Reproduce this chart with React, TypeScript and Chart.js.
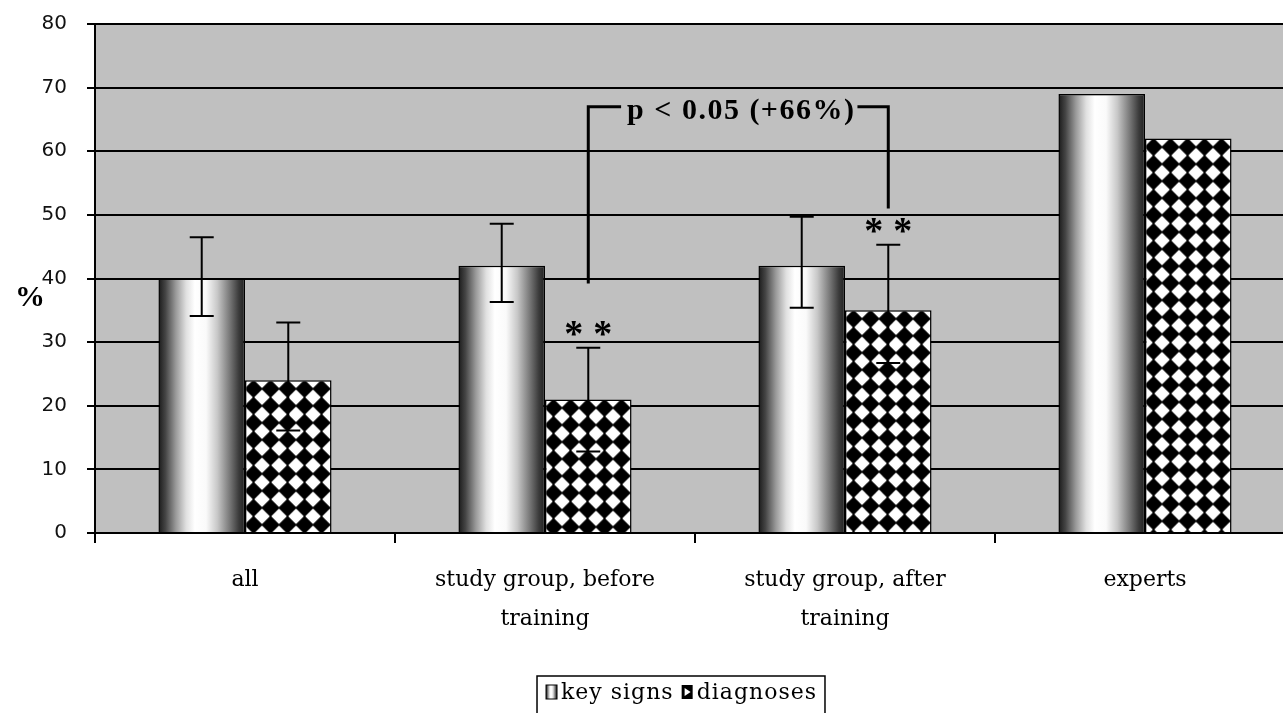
import { useEffect, useRef } from "react";
import Chart from "chart.js/auto";

const categories: (string | string[])[] = [
  "all",
  ["study group, before", "training"],
  ["study group, after", "training"],
  "experts",
];
const seriesNames = ["key signs", "diagnoses"];
const keySigns = [40, 42, 42, 69];
const diagnoses = [24, 21, 35, 62];
const keyLow = [34.1, 36.3, 35.4, null];
const keyHigh = [46.5, 48.6, 49.7, null];
const diagLow = [16.1, 12.8, 26.7, null];
const diagHigh = [33.1, 29.1, 45.3, null];
const diagStars = ["", "**", "**", ""];
const yTicks = [0, 10, 20, 30, 40, 50, 60, 70, 80];
// bracket between the two study-group diagnoses bars
const bracketBars = [1, 2];
const bracketEnds = [39.2, 51];
const bracketTop = 67;
const bracketText = "p < 0.05 (+66%)";

const CAT_PCT = 0.577;
const TILE = 17;

// black tile with white diamonds centred on the tile corners
function diamondTile() {
  const s = TILE;
  const c = document.createElement("canvas");
  c.width = s;
  c.height = s;
  const t = c.getContext("2d")!;
  t.fillStyle = "#000";
  t.fillRect(0, 0, s, s);
  t.fillStyle = "#fff";
  t.strokeStyle = "#fff";
  t.lineJoin = "round";
  t.lineWidth = 1.5;
  const r = s * 0.4;
  for (const [cx, cy] of [
    [0, 0],
    [s, 0],
    [0, s],
    [s, s],
  ]) {
    t.beginPath();
    t.moveTo(cx, cy - r);
    t.lineTo(cx + r, cy);
    t.lineTo(cx, cy + r);
    t.lineTo(cx - r, cy);
    t.closePath();
    t.fill();
    t.stroke();
  }
  return c;
}

function cylinder(ctx: CanvasRenderingContext2D, left: number, right: number) {
  const g = ctx.createLinearGradient(left, 0, right, 0);
  g.addColorStop(0, "#1a1a1a");
  g.addColorStop(0.08, "#444444");
  g.addColorStop(0.2, "#999999");
  g.addColorStop(0.32, "#e0e0e0");
  g.addColorStop(0.42, "#ffffff");
  g.addColorStop(0.55, "#fafafa");
  g.addColorStop(0.68, "#c8c8c8");
  g.addColorStop(0.82, "#7a7a7a");
  g.addColorStop(0.93, "#3a3a3a");
  g.addColorStop(1, "#202020");
  return g;
}

const decor = {
  id: "decor",
  beforeDraw(chart: any) {
    const { ctx, chartArea: a } = chart;
    ctx.save();
    ctx.fillStyle = "#c0c0c0";
    ctx.fillRect(a.left, a.top, a.right - a.left, a.bottom - a.top);
    ctx.restore();
  },
  afterDatasetsDraw(chart: any) {
    const { ctx } = chart;
    const y = chart.scales.y;
    const metas = [chart.getDatasetMeta(0), chart.getDatasetMeta(1)];
    const lows = [keyLow, diagLow];
    const highs = [keyHigh, diagHigh];
    ctx.save();
    ctx.strokeStyle = "#000";
    ctx.lineWidth = 2;
    metas.forEach((meta, d) => {
      meta.data.forEach((bar: any, i: number) => {
        const lo = lows[d][i];
        const hi = highs[d][i];
        if (lo == null || hi == null) return;
        const yl = y.getPixelForValue(lo);
        const yh = y.getPixelForValue(hi);
        ctx.beginPath();
        ctx.moveTo(bar.x, yl);
        ctx.lineTo(bar.x, yh);
        ctx.moveTo(bar.x - 12, yh);
        ctx.lineTo(bar.x + 12, yh);
        ctx.moveTo(bar.x - 12, yl);
        ctx.lineTo(bar.x + 12, yl);
        ctx.stroke();
      });
    });
    // significance stars
    ctx.fillStyle = "#000";
    ctx.font = "bold 38px 'Liberation Serif'";
    ctx.textAlign = "center";
    ctx.textBaseline = "alphabetic";
    metas[1].data.forEach((bar: any, i: number) => {
      const s = diagStars[i];
      if (!s || diagHigh[i] == null) return;
      const yh = y.getPixelForValue(diagHigh[i]);
      s.split("").forEach((ch, k) => {
        const off = (k - (s.length - 1) / 2) * 29;
        ctx.fillText(ch, bar.x + off, yh - 2);
      });
    });
    // bracket
    const xl = metas[1].data[bracketBars[0]].x;
    const xr = metas[1].data[bracketBars[1]].x;
    const yt = y.getPixelForValue(bracketTop);
    ctx.font = "bold 30px 'Liberation Serif'";
    (ctx as any).letterSpacing = "1.5px";
    const tw = ctx.measureText(bracketText).width;
    const mid = (xl + xr) / 2 + 3;
    ctx.lineWidth = 3;
    ctx.beginPath();
    ctx.moveTo(xl, y.getPixelForValue(bracketEnds[0]));
    ctx.lineTo(xl, yt);
    ctx.lineTo(mid - tw / 2 - 6, yt);
    ctx.moveTo(mid + tw / 2 + 2, yt);
    ctx.lineTo(xr, yt);
    ctx.lineTo(xr, y.getPixelForValue(bracketEnds[1]));
    ctx.stroke();
    ctx.textBaseline = "middle";
    ctx.fillText(bracketText, mid, yt + 5);
    ctx.restore();
  },
  afterDraw(chart: any) {
    const { ctx } = chart;
    ctx.save();
    // y axis title, upright
    ctx.fillStyle = "#000";
    ctx.font = "bold 30px 'Liberation Serif'";
    ctx.textAlign = "center";
    ctx.textBaseline = "middle";
    ctx.fillText("%", 30, 298);
    // legend box
    ctx.font = "22px 'DejaVu Serif'";
    (ctx as any).letterSpacing = "1px";
    ctx.textAlign = "left";
    const w1 = ctx.measureText(seriesNames[0]).width;
    const w2 = ctx.measureText(seriesNames[1]).width;
    const mw = 11;
    const total = 9 + mw + 4 + w1 + 8 + mw + 4 + w2 + 8;
    const bx = 681 - total / 2;
    const by = 676;
    ctx.fillStyle = "#fff";
    ctx.fillRect(bx, by, total, 44);
    ctx.strokeStyle = "#000";
    ctx.lineWidth = 1.5;
    ctx.strokeRect(bx, by, total, 44);
    let x = bx + 9;
    const my = by + 9;
    ctx.fillStyle = cylinder(ctx, x, x + mw);
    ctx.fillRect(x, my, mw, 14);
    ctx.lineWidth = 1;
    ctx.strokeRect(x, my, mw, 14);
    ctx.fillStyle = "#000";
    ctx.fillText(seriesNames[0], x + mw + 4, by + 17);
    x += mw + 4 + w1 + 8;
    ctx.fillRect(x, my, mw, 14);
    ctx.fillStyle = "#fff";
    ctx.beginPath();
    ctx.moveTo(x + 3, my + 3);
    ctx.lineTo(x + 9, my + 7);
    ctx.lineTo(x + 3, my + 11);
    ctx.closePath();
    ctx.fill();
    ctx.fillStyle = "#000";
    ctx.fillText(seriesNames[1], x + mw + 4, by + 17);
    ctx.restore();
  },
};

export default function App() {
  const chartRef = useRef<HTMLCanvasElement>(null);
  const chartInstance = useRef<Chart | null>(null);

  useEffect(() => {
    if (!chartRef.current) return;
    const tile = diamondTile();

    if (chartInstance.current) chartInstance.current.destroy();

    chartInstance.current = new Chart(chartRef.current, {
      type: "bar",
      data: {
        labels: categories,
        datasets: [
          {
            label: seriesNames[0],
            data: keySigns,
            backgroundColor: (c: any) => {
              const xs = c.chart.scales.x;
              if (!xs || c.dataIndex == null) return "#ddd";
              const center = xs.getPixelForValue(c.dataIndex);
              const bw = ((xs.width / categories.length) * CAT_PCT) / 2;
              if (!isFinite(center) || !isFinite(bw) || bw <= 0) return "#ddd";
              return cylinder(c.chart.ctx, center - bw, center);
            },
            borderColor: "#000",
            borderWidth: 1.5,
          },
          {
            label: seriesNames[1],
            data: diagnoses,
            backgroundColor: (c: any) => {
              const { x: xs, y: ys } = c.chart.scales;
              const p = c.chart.ctx.createPattern(tile, "repeat");
              if (!xs || !ys || c.dataIndex == null) return p;
              const left = xs.getPixelForValue(c.dataIndex);
              const top = ys.getPixelForValue(diagnoses[c.dataIndex]);
              if (isFinite(left) && isFinite(top)) {
                p.setTransform(new DOMMatrix().translate(left, top));
              }
              return p;
            },
            borderColor: "#000",
            borderWidth: 1.5,
          },
        ],
      },
      options: {
        responsive: false,
        animation: false,
        layout: { padding: { left: 0, top: 24, right: 5, bottom: 0 } },
        plugins: {
          legend: { display: false },
          tooltip: { enabled: false },
        },
        datasets: {
          bar: { categoryPercentage: CAT_PCT, barPercentage: 1 },
        },
        scales: {
          x: {
            afterFit: (s: any) => {
              s.height = 180;
            },
            grid: {
              offset: true,
              drawOnChartArea: false,
              drawTicks: true,
              tickLength: 10,
              color: "#000",
              lineWidth: 2,
            },
            border: { display: true, color: "#000", width: 2 },
            ticks: {
              color: "#000",
              padding: 18,
              maxRotation: 0,
              autoSkip: false,
              font: { family: "'DejaVu Serif'", size: 22, lineHeight: 1.78 },
            },
          },
          y: {
            min: yTicks[0],
            max: yTicks[yTicks.length - 1],
            afterFit: (s: any) => {
              s.width = 95;
              s.paddingTop = 0;
              s.paddingBottom = 0;
            },
            afterBuildTicks: (s: any) => {
              s.ticks = yTicks.map((v) => ({ value: v }));
            },
            grid: {
              color: "#000",
              lineWidth: 2,
              drawTicks: true,
              tickLength: 8,
            },
            border: { display: true, color: "#000", width: 2 },
            ticks: {
              color: "#111",
              padding: 20,
              font: { family: "'DejaVu Sans'", size: 20 },
            },
          },
        },
      },
      plugins: [decor],
    });

    return () => {
      if (chartInstance.current) {
        chartInstance.current.destroy();
        chartInstance.current = null;
      }
    };
  }, []);

  return (
    <div
      style={{
        position: "fixed",
        left: 0,
        top: 0,
        width: 1283,
        height: 713,
        overflow: "hidden",
        background: "#fff",
      }}
    >
      <canvas ref={chartRef} width={1300} height={713} style={{ display: "block" }} />
    </div>
  );
}
